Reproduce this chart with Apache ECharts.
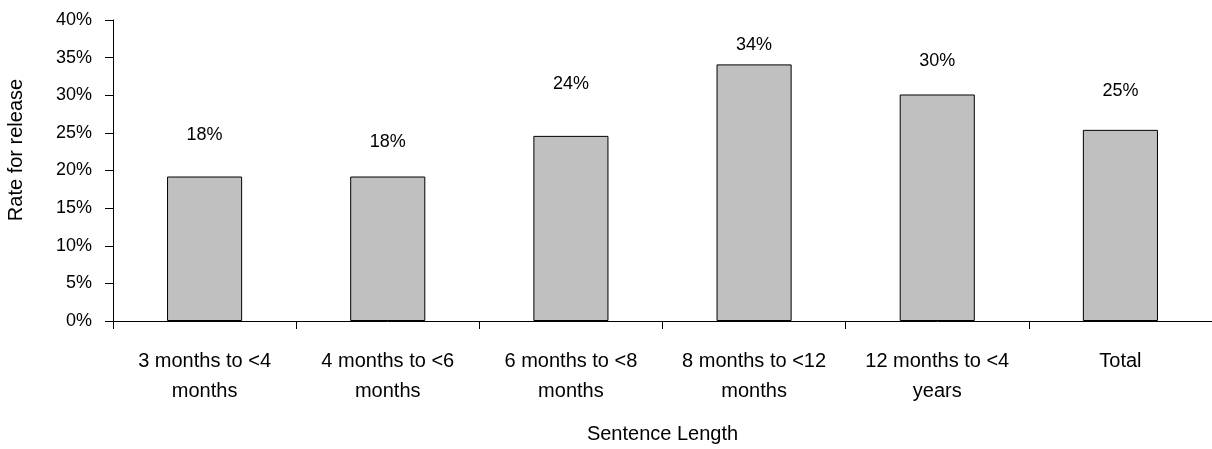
<!DOCTYPE html>
<html>
<head>
<meta charset="utf-8">
<script src="https://cdn.jsdelivr.net/npm/echarts@6/dist/echarts.min.js"></script>
<style>
	html, body { margin: 0; padding: 0; background: #ffffff; }
	#chart { width: 1212px; height: 449px; }
</style>
</head>
<body>
<div id="chart"></div>
<script>
const categories = [
	'3 months to <4\nmonths',
	'4 months to <6\nmonths',
	'6 months to <8\nmonths',
	'8 months to <12\nmonths',
	'12 months to <4\nyears',
	'Total'
];

// bar heights as drawn (percent)
const barValues = [19.2, 19.2, 24.6, 34.1, 30.1, 25.4];

// printed labels and where they sit on the y scale
const labelTexts = ['18%', '18%', '24%', '34%', '30%', '25%'];
const labelLevels = [24.7, 23.8, 31.5, 36.7, 34.6, 30.6];

const yTicks = [0, 5, 10, 15, 20, 25, 30, 35, 40];

const chart = echarts.init(document.querySelector('#chart'));

const font = 'Liberation Sans, Arial, sans-serif';

const option = {
	animation: false,
	backgroundColor: '#ffffff',

	grid: {
		left: 113,
		right: -4,
		top: 20,
		bottom: 126
	},

	graphic: [
		{
			type: 'text',
			x: 6,
			y: 150,
			rotation: Math.PI / 2,
			style: {
				text: 'Rate for release',
				fill: '#000000',
				font: '20px ' + font,
				align: 'center',
				verticalAlign: 'top'
			}
		}
	],

	xAxis: {
		type: 'category',
		data: categories,
		name: 'Sentence Length',
		nameLocation: 'middle',
		nameGap: 103,
		nameTextStyle: {
			color: '#000000',
			fontSize: 20,
			fontFamily: font
		},
		axisLine: { lineStyle: { color: '#000000', width: 1 } },
		axisTick: {
			show: true,
			alignWithLabel: false,
			interval: 0,
			length: 8,
			lineStyle: { color: '#000000' }
		},
		axisLabel: {
			color: '#000000',
			fontSize: 20,
			fontFamily: font,
			lineHeight: 30,
			margin: 25,
			interval: 0
		}
	},

	yAxis: {
		type: 'value',
		min: yTicks[0],
		max: yTicks[yTicks.length - 1],
		interval: 5,
		splitLine: { show: false },
		axisLine: { show: true, lineStyle: { color: '#000000', width: 1 } },
		axisTick: { show: true, length: 8, lineStyle: { color: '#000000' } },
		axisLabel: {
			color: '#000000',
			fontSize: 18,
			fontFamily: font,
			margin: 21,
			formatter: '{value}%'
		}
	},

	series: [
		{
			type: 'bar',
			data: barValues,
			barWidth: '41%',
			itemStyle: {
				color: '#c0c0c0',
				borderColor: '#000000',
				borderWidth: 1
			}
		},
		{
			type: 'scatter',
			silent: true,
			symbolSize: 0,
			itemStyle: { color: '#000000', opacity: 1 },
			data: labelLevels.map((v, i) => [i, v]),
			label: {
				show: true,
				position: 'inside',
				color: '#000000',
				opacity: 1,
				textBorderWidth: 0,
				fontSize: 18,
				fontFamily: font,
				formatter: p => labelTexts[p.dataIndex]
			}
		}
	]
};

chart.setOption(option);
</script>
</body>
</html>
